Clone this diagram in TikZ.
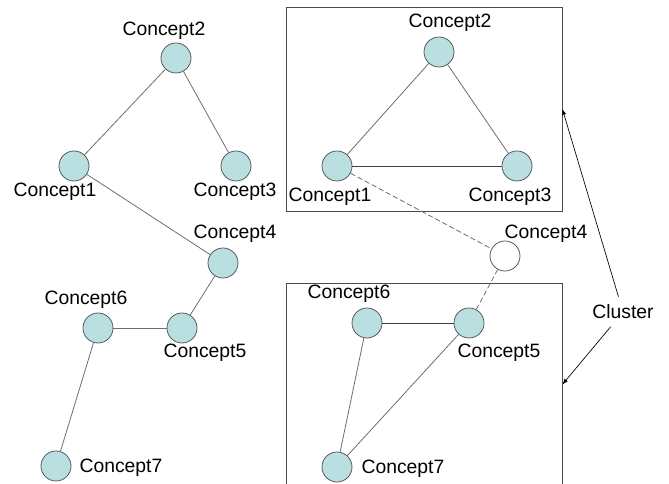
\documentclass[tikz,border=0pt]{standalone}
\usepackage{fontspec}
\setmainfont{Liberation Sans}
\usepackage{xcolor}
\usetikzlibrary{shapes, arrows, positioning}

\definecolor{conceptfill}{HTML}{B9DFE1}
\definecolor{edgegray}{HTML}{6E6E6E}

\begin{document}
\begin{tikzpicture}[x=0.75pt, y=-0.75pt, font=\fontsize{14.5}{16}\selectfont]
    \tikzstyle{concept} = [circle, draw=black!65, fill=conceptfill, minimum size=22.5pt, inner sep=0pt, line width=0.6pt]
    \tikzstyle{free} = [concept, fill=white]
    \tikzstyle{lbl} = [inner sep=1pt]
    \tikzstyle{line} = [draw, edgegray, line width=0.6pt]
    \tikzstyle{weak} = [line, dashed, dash pattern=on 4pt off 2pt]
    \tikzstyle{cluster} = [rectangle, draw=black!70, line width=0.6pt, inner sep=0pt]
    \tikzstyle{pointer} = [draw, -latex, line width=0.5pt, shorten <=2pt]

    \useasboundingbox (0,0) rectangle (669,484);

    % before clustering
    \node [concept] (a2) at (176,58) {};
    \node [concept] (a1) at (74,166) {};
    \node [concept] (a3) at (236,166) {};
    \node [concept] (a4) at (223,263) {};
    \node [concept] (a5) at (182,328) {};
    \node [concept] (a6) at (98,328) {};
    \node [concept] (a7) at (56,466) {};

    \node [lbl] (la2) at (164,31) {Concept2};
    \node [lbl] (la1) at (55,192) {Concept1};
    \node [lbl] (la3) at (235,192) {Concept3};
    \node [lbl] (la4) at (235,234) {Concept4};
    \node [lbl] (la6) at (86,300) {Concept6};
    \node [lbl] (la5) at (205,353) {Concept5};
    \node [lbl] (la7) at (121,468) {Concept7};

    \path [line] (a2) -- (a1);
    \path [line] (a2) -- (a3);
    \path [line] (a1) -- (a4);
    \path [line] (a4) -- (a5);
    \path [line] (a5) -- (a6);
    \path [line] (a6) -- (a7);

    % after clustering
    \node [cluster, minimum width=207pt, minimum height=153pt] (boxA) at (424,109) {};
    \node [cluster, minimum width=207pt, minimum height=152.25pt] (boxB) at (424,384.5) {};

    \node [concept] (b2) at (439,52) {};
    \node [concept] (b1) at (337,166) {};
    \node [concept] (b3) at (517,166) {};
    \node [free] (b4) at (505,256) {};
    \node [concept] (b6) at (367,323) {};
    \node [concept] (b5) at (469,323) {};
    \node [concept] (b7) at (337,467) {};

    \node [lbl] (lb2) at (450,23) {Concept2};
    \node [lbl] (lb1) at (330,197) {Concept1};
    \node [lbl] (lb3) at (510,197) {Concept3};
    \node [lbl] (lb4) at (546,234) {Concept4};
    \node [lbl] (lb6) at (349,294) {Concept6};
    \node [lbl] (lb5) at (499,353) {Concept5};
    \node [lbl] (lb7) at (403,469) {Concept7};

    \path [line] (b1) -- (b2);
    \path [line] (b2) -- (b3);
    \path [line, black!75] (b1) -- (b3);
    \path [weak] (b1) -- (b4);
    \path [weak] (b4) -- (b5);
    \path [line, black!75] (b6) -- (b5);
    \path [line] (b6) -- (b7);
    \path [line] (b7) -- (b5);

    \node [lbl, inner sep=4pt] (cluster) at (623,312) {Cluster};
    \path [pointer] (cluster) -- (boxA.east);
    \path [pointer] (cluster) -- (boxB.east);
\end{tikzpicture}
\end{document}
